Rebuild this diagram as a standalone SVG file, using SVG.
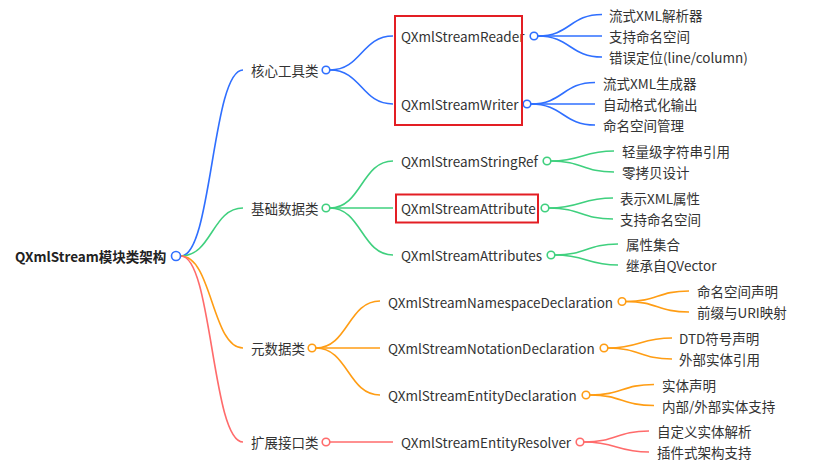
<svg xmlns="http://www.w3.org/2000/svg" width="826" height="475" viewBox="0 0 826 475">
<style>
text{font-family:"Noto Sans CJK SC","Noto Sans",sans-serif;font-size:13.5px;fill:#333;dominant-baseline:central}
.root{font-weight:bold;fill:#222}
path{fill:none;stroke-width:1.6}
circle{fill:#fff;stroke-width:1.6}
.b{stroke:#2f6fff}.g{stroke:#3fd07e}.o{stroke:#ff9d14}.r{stroke:#ff6b6b}
.box{fill:none;stroke:#e31e24;stroke-width:2}
</style>
<rect width="826" height="475" fill="#fff"/>
<g id="connectors">
<path class="b" d="M181,256 C212,256 212,70 243,70"/>
<path class="g" d="M181,256 C212,256 212,208 243,208"/>
<path class="o" d="M181,256 C212,256 212,348 243,348"/>
<path class="r" d="M181,256 C212,256 212,442 243,442"/>
<path class="b" d="M330,70 C361.5,70 361.5,36 393,36"/>
<path class="b" d="M330,70 C361.5,70 361.5,104 393,104"/>
<path class="g" d="M330,208 C361.5,208 361.5,161 393,161"/>
<path class="g" d="M330,208 L393,208"/>
<path class="g" d="M330,208 C361.5,208 361.5,255 393,255"/>
<path class="o" d="M316,348 C348,348 348,301 380,301"/>
<path class="o" d="M316,348 L380,348"/>
<path class="o" d="M316,348 C348,348 348,395 380,395"/>
<path class="r" d="M330,442 L393,442"/>
<path class="b" d="M538,36 C570,36 570,14.5 602,14.5"/>
<path class="b" d="M538,36 L602,36"/>
<path class="b" d="M538,36 C570,36 570,57 602,57"/>
<path class="b" d="M531,104 C563,104 563,82.5 595,82.5"/>
<path class="b" d="M531,104 L595,104"/>
<path class="b" d="M531,104 C563,104 563,125 595,125"/>
<path class="g" d="M551,161 C582.5,161 582.5,151 614,151"/>
<path class="g" d="M551,161 C582.5,161 582.5,172 614,172"/>
<path class="g" d="M549,208 C581,208 581,198 613,198"/>
<path class="g" d="M549,208 C581,208 581,219 613,219"/>
<path class="g" d="M555,255 C586.5,255 586.5,244 618,244"/>
<path class="g" d="M555,255 C586.5,255 586.5,265 618,265"/>
<path class="o" d="M626,301.5 C657.5,301.5 657.5,291 689,291"/>
<path class="o" d="M626,301.5 C657.5,301.5 657.5,312 689,312"/>
<path class="o" d="M608,348 C640,348 640,338 672,338"/>
<path class="o" d="M608,348 C640,348 640,359 672,359"/>
<path class="o" d="M590,395 C622,395 622,384.5 654,384.5"/>
<path class="o" d="M590,395 C622,395 622,405.5 654,405.5"/>
<path class="r" d="M584,442 C616.5,442 616.5,431 649,431"/>
<path class="r" d="M584,442 C616.5,442 616.5,452 649,452"/>
</g>
<g id="root"><text class="root" x="15" y="256">QXmlStream模块类架构</text><circle class="b" cx="176" cy="256" r="4.5"/></g>
<g id="core"><text x="251" y="70">核心工具类</text><circle class="b" cx="326" cy="70" r="3.8"/></g>
<g id="basic"><text x="251" y="208">基础数据类</text><circle class="g" cx="326" cy="208" r="3.8"/></g>
<g id="meta"><text x="251" y="348">元数据类</text><circle class="o" cx="312" cy="348" r="3.8"/></g>
<g id="ext"><text x="251" y="442">扩展接口类</text><circle class="r" cx="326" cy="442" r="3.8"/></g>
<g id="reader"><text x="401" y="36">QXmlStreamReader</text><circle class="b" cx="534" cy="36" r="3.8"/></g>
<g id="writer"><text x="401" y="104">QXmlStreamWriter</text><circle class="b" cx="527" cy="104" r="3.8"/></g>
<g id="stringref"><text x="401" y="161">QXmlStreamStringRef</text><circle class="g" cx="547" cy="161" r="3.8"/></g>
<g id="attribute"><text x="401" y="208">QXmlStreamAttribute</text><circle class="g" cx="545" cy="208" r="3.8"/></g>
<g id="attributes"><text x="401" y="255">QXmlStreamAttributes</text><circle class="g" cx="551" cy="255" r="3.8"/></g>
<g id="nsdecl"><text x="388" y="301.5">QXmlStreamNamespaceDeclaration</text><circle class="o" cx="622" cy="301.5" r="3.8"/></g>
<g id="notdecl"><text x="388" y="348">QXmlStreamNotationDeclaration</text><circle class="o" cx="604" cy="348" r="3.8"/></g>
<g id="entdecl"><text x="388" y="395">QXmlStreamEntityDeclaration</text><circle class="o" cx="586" cy="395" r="3.8"/></g>
<g id="resolver"><text x="401" y="442">QXmlStreamEntityResolver</text><circle class="r" cx="580" cy="442" r="3.8"/></g>
<g id="leaf-reader">
<text x="609" y="14.5">流式XML解析器</text>
<text x="609" y="36">支持命名空间</text>
<text x="609" y="57">错误定位(line/column)</text>
</g>
<g id="leaf-writer">
<text x="603" y="82.5">流式XML生成器</text>
<text x="603" y="104">自动格式化输出</text>
<text x="603" y="125">命名空间管理</text>
</g>
<g id="leaf-stringref">
<text x="622" y="151">轻量级字符串引用</text>
<text x="622" y="172">零拷贝设计</text>
</g>
<g id="leaf-attribute">
<text x="620" y="198">表示XML属性</text>
<text x="620" y="219">支持命名空间</text>
</g>
<g id="leaf-attributes">
<text x="626" y="244">属性集合</text>
<text x="626" y="265">继承自QVector</text>
</g>
<g id="leaf-nsdecl">
<text x="697" y="291">命名空间声明</text>
<text x="697" y="312">前缀与URI映射</text>
</g>
<g id="leaf-notdecl">
<text x="679" y="338">DTD符号声明</text>
<text x="679" y="359">外部实体引用</text>
</g>
<g id="leaf-entdecl">
<text x="662" y="384.5">实体声明</text>
<text x="662" y="405.5">内部/外部实体支持</text>
</g>
<g id="leaf-resolver">
<text x="657" y="431">自定义实体解析</text>
<text x="657" y="452">插件式架构支持</text>
</g>
<g id="highlights">
<rect class="box" x="395" y="16" width="127" height="109"/>
<rect class="box" x="396" y="194.5" width="142" height="28"/>
</g>
</svg>
